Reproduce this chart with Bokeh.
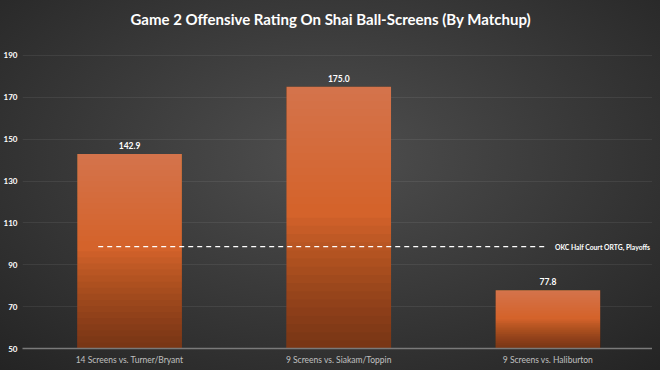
from bokeh.plotting import figure
from bokeh.models import Range1d, FixedTicker, ColumnDataSource, GlobalInlineStyleSheet
from bokeh.core.properties import value
from bokeh.embed import file_html
from bokeh.resources import INLINE

# ---- data ----
categories = ["14 Screens vs. Turner/Bryant", "9 Screens vs. Siakam/Toppin", "9 Screens vs. Haliburton"]
ratings = [142.9, 175.0, 77.8]
rating_labels = ["142.9", "175.0", "77.8"]
reference_value = 98.7
reference_label = "OKC Half Court ORTG, Playoffs"
y_ticks = [50, 70, 90, 110, 130, 150, 170, 190]
title_text = "Game 2 Offensive Rating On Shai Ball-Screens (By Matchup)"

FONT = "Lato"
base = 50
xs = [i + 0.5 for i in range(len(categories))]

p = figure(frame_width=630, frame_height=314, output_backend="svg", toolbar_location=None,
           x_range=Range1d(-0.012, 3.0), y_range=Range1d(base, 200),
           min_border_left=14, min_border_right=0, min_border_top=4, min_border_bottom=0,
           title=title_text)
p.stylesheets = [GlobalInlineStyleSheet(css="html, body { overflow: hidden; background: radial-gradient(ellipse 75% 80% at 50% 42%, #4f4f4f 0%, #3b3b3b 45%, #232323 100%) fixed; }")]
p.background_fill_color = None
p.border_fill_color = None
p.outline_line_color = None

p.title.text_color = "white"
p.title.text_font = FONT
p.title.text_font_size = "15px"
p.title.text_font_style = "bold"
p.title.align = "left"
p.title.offset = 108
p.title.standoff = 14

# bars: base + shading layers derived from values
src = ColumnDataSource(dict(x=xs, top=ratings))
p.vbar(x="x", top="top", bottom=base, width=0.5, source=src, fill_color="#d4632b", line_color=None)
N = 16
for k in range(N):
    f_dark = 0.5 * (k + 1) / N
    p.vbar(x=xs, top=[base + (v - base) * f_dark for v in ratings], bottom=base, width=0.5,
           fill_color="black", fill_alpha=0.03, line_color=None)
    f_light = 0.55 + 0.45 * k / N
    p.vbar(x=xs, top=ratings, bottom=[base + (v - base) * f_light for v in ratings], width=0.5,
           fill_color="white", fill_alpha=0.012, line_color=None)

# value labels
p.text(x=xs, y=ratings, text=rating_labels, text_align="center", text_baseline="bottom",
       y_offset=-5, text_color="white", text_font=value(FONT), text_font_style="bold",
       text_font_size="8.5px")

# reference dashed line
p.segment(x0=[xs[0] - 0.15], x1=[xs[-1]], y0=[reference_value], y1=[reference_value],
          line_color="white", line_width=1.2, line_dash="5 4")
p.text(x=[xs[-1]], y=[reference_value], text=[reference_label], x_offset=7,
       text_baseline="middle", text_align="left", text_color="white",
       text_font=value(FONT), text_font_style="bold", text_font_size="6.8px")

# axes
for ax in (p.xaxis, p.yaxis):
    ax.axis_label = None
    ax.major_tick_out = 0
    ax.major_tick_in = 0
    ax.minor_tick_out = 0
    ax.minor_tick_in = 0
    ax.axis_label_standoff = 0
    ax.major_tick_line_color = None
    ax.minor_tick_line_color = None

p.yaxis.ticker = FixedTicker(ticks=y_ticks)
p.yaxis.axis_line_color = None
p.yaxis.major_label_text_color = "white"
p.yaxis.major_label_text_font = FONT
p.yaxis.major_label_text_font_style = "bold"
p.yaxis.major_label_text_font_size = "8px"
p.yaxis.major_label_standoff = 5

p.xaxis.ticker = FixedTicker(ticks=xs)
p.xaxis.major_label_overrides = {x: c for x, c in zip(xs, categories)}
p.xaxis.axis_line_color = "#7a7a7a"
p.xaxis.axis_line_width = 1.5
p.xaxis.major_label_text_color = "#c0c0c0"
p.xaxis.major_label_text_font = FONT
p.xaxis.major_label_text_font_size = "8.5px"
p.xaxis.major_label_standoff = 6

p.xgrid.grid_line_color = None
p.ygrid.grid_line_color = "white"
p.ygrid.grid_line_alpha = 0.07

open("out.html", "w").write(file_html(p, INLINE))
